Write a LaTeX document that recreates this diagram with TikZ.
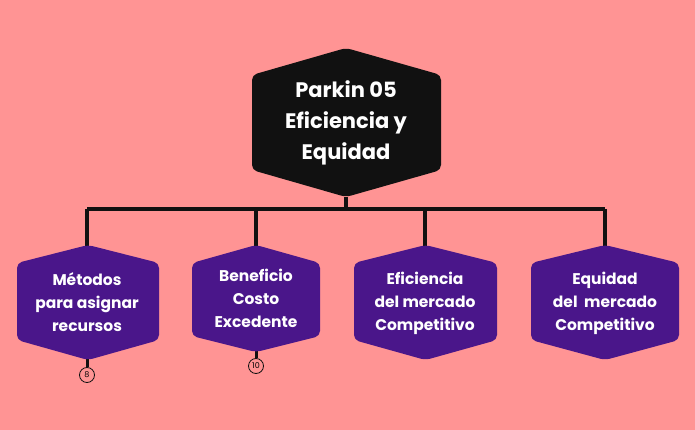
\documentclass[tikz,border=0pt]{standalone}
\usepackage{fontspec}
\setmainfont{Poppins}
\definecolor{bg}{HTML}{FF9494}
\definecolor{purp}{HTML}{4A168A}
\definecolor{blk}{HTML}{111111}
\begin{document}
\begin{tikzpicture}[x=1pt,y=-1pt,
  hexfill/.style={rounded corners=5pt},
  lbl/.style={text=white,font=\bfseries\fontsize{15.5}{23}\selectfont,align=center},
  conn/.style={draw=blk,line width=4pt},
  badge/.style={circle,draw=blk,line width=0.8pt,inner sep=0pt,minimum size=15pt,font=\fontsize{8}{8}\selectfont}]
\fill[bg] (0,0) rectangle (695,430);
\useasboundingbox (0,0) rectangle (695,430);
% connectors
\coordinate (rootbot) at (346,197);
\coordinate (join) at (346,209);
\foreach \n/\x in {a/87,b/256,c/425,d/605}{\coordinate (top\n) at (\x,247);\coordinate (bar\n) at (\x,209);}
\draw[conn] (rootbot) -- (join);
\draw[conn] (bara) -- (bard);
\foreach \n in {a,b,c,d}{\draw[conn] (bar\n) -- (top\n);}
% badges
\coordinate (bota) at (87,358);
\coordinate (botb) at (256,350);
\node[badge] (ca) at (87,375) {8};
\node[badge] (cb) at (256,366) {10};
\draw[conn,line width=3pt] (bota) -- (ca.north);
\draw[conn,line width=3pt] (botb) -- (cb.north);
% top hexagon
\fill[blk,hexfill] (252,75) -- (346,48) -- (441,75) -- (441,170) -- (346,197) -- (252,170) -- cycle;
\node[text=white,font=\bfseries\fontsize{21}{31}\selectfont,align=center] (root) at (346,123) {Parkin 05\\Eficiencia y\\Equidad};
% children
\foreach \l/\r/\b/\bb in {17/159/340/360,192/320/336/352,354/497/340/360,531/679/340/360}{
  \pgfmathsetmacro{\m}{(\l+\r)/2}
  \fill[purp,hexfill] (\l,263) -- (\m,245) -- (\r,263) -- (\r,\b) -- (\m,\bb) -- (\l,\b) -- cycle;
}
\node[lbl] (na) at (87,302) {Métodos\\para asignar\\recursos};
\node[lbl] (nb) at (256,298) {Beneficio\\Costo\\Excedente};
\node[lbl] (nc) at (425,303) {Eficiencia\\del mercado\\Competitivo};
\node[lbl] (nd) at (605,303) {Equidad\\del~ mercado\\Competitivo};
\end{tikzpicture}
\end{document}
